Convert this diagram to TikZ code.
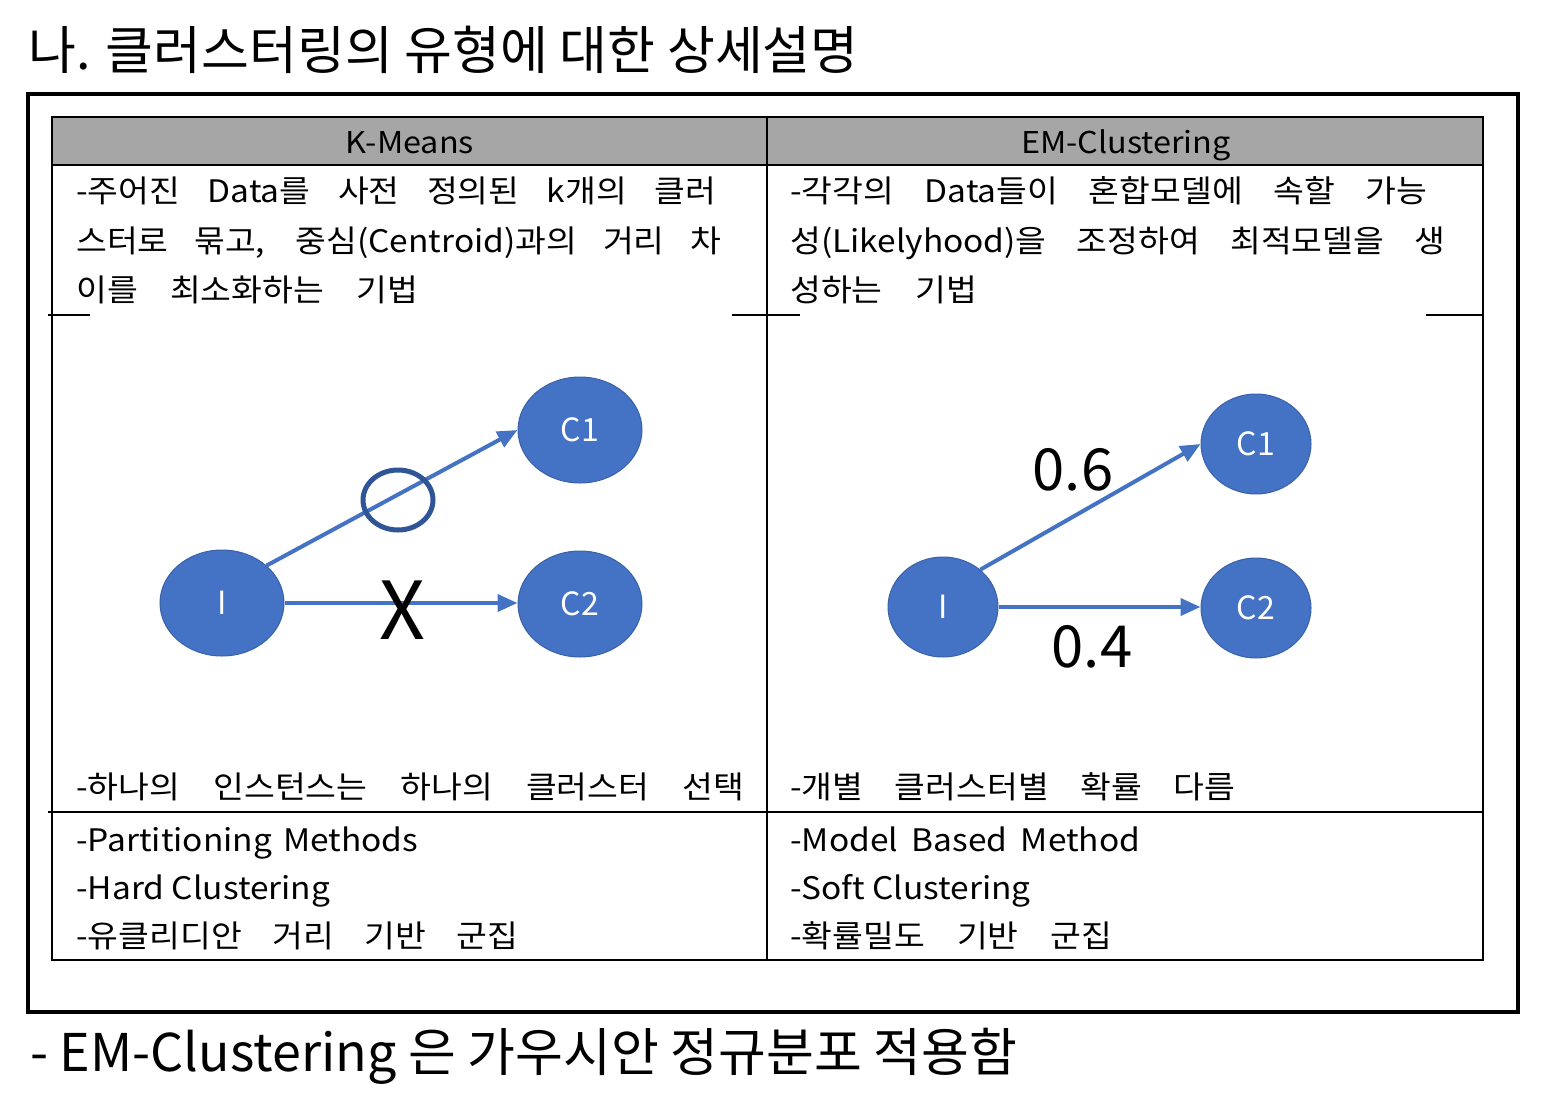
\documentclass[tikz,border=0pt]{standalone}
\usepackage{fontspec}
\setmainfont{Noto Sans CJK KR}
\newfontfamily\tabfont[FakeStretch=1.08]{Noto Sans CJK KR}
\usetikzlibrary{shapes.geometric,arrows.meta,positioning}
\definecolor{clblue}{HTML}{4472C4}
\definecolor{cldark}{HTML}{2F5597}
\definecolor{hdgray}{HTML}{A6A6A6}
\newcommand{\tline}[2]{\makebox[#1pt][s]{#2}}
\tikzset{
  knode/.style ={ellipse, fill=clblue, draw=clblue!85!black, line width=1pt,
                 minimum width=124pt, minimum height=106pt, inner sep=0pt,
                 text=white, font=\fontsize{32}{36}\selectfont},
  enode/.style ={knode, minimum width=110pt, minimum height=100pt},
  txt/.style   ={anchor=base west, inner sep=0pt, font=\tabfont\fontsize{31}{36}\selectfont},
  hdr/.style   ={anchor=base, inner sep=0pt, font=\tabfont\fontsize{30}{36}\selectfont},
  big/.style   ={inner sep=0pt, font=\fontsize{58}{64}\selectfont},
  ar/.style    ={-{Triangle[length=20pt,width=17pt]}, line width=4pt, draw=clblue},
  rule/.style  ={line width=2.5pt}
}
\begin{document}
\begin{tikzpicture}[x=1pt,y=-1pt]
\useasboundingbox (0,0) rectangle (1556,1106);
% title and frame
\node[anchor=base west, inner sep=0pt, font=\fontsize{52}{60}\selectfont] (title) at (28,69)
      {나. 클러스터링의 유형에 대한 상세설명};
\draw[line width=3.5pt] (28,94) rectangle (1518,1012);

% table grid
\fill[hdgray] (52,117) rectangle (1483,165);
\draw[rule] (52,117) rectangle (1483,960);
\draw[rule] (52,165) -- (1483,165);
\draw[rule] (767,117) -- (767,960);
\draw[rule] (48,812) -- (1483,812);
\draw[rule] (48,315) -- (90,315);
\draw[rule] (732,315) -- (800,315);
\draw[rule] (1426,315) -- (1483,315);

% headers
\node[hdr] (hk) at (410,153) {K-Means};
\node[hdr] (he) at (1126,153) {EM-Clustering};

% K-Means column
\node[txt] (k1) at (76,202) {\tline{640}{-주어진 Data를 사전 정의된 k개의 클러}};
\node[txt] (k2) at (76,252) {\tline{645}{스터로 묶고, 중심(Centroid)과의 거리 차}};
\node[txt] (k3) at (76,301) {\tline{342}{이를 최소화하는 기법}};
\node[txt] (k4) at (76,798) {\tline{668}{-하나의 인스턴스는 하나의 클러스터 선택}};
\node[txt] (k5) at (76,851) {\tline{342}{-Partitioning Methods}};
\node[txt] (k6) at (76,899) {-Hard Clustering};
\node[txt] (k7) at (76,947) {\tline{442}{-유클리디안 거리 기반 군집}};

% EM column
\node[txt] (e1) at (790,202) {\tline{637}{-각각의 Data들이 혼합모델에 속할 가능}};
\node[txt] (e2) at (790,252) {\tline{655}{성(Likelyhood)을 조정하여 최적모델을 생}};
\node[txt] (e3) at (790,301) {\tline{187}{성하는 기법}};
\node[txt] (e4) at (790,798) {\tline{445}{-개별 클러스터별 확률 다름}};
\node[txt] (e5) at (790,851) {\tline{350}{-Model Based Method}};
\node[txt] (e6) at (790,899) {-Soft Clustering};
\node[txt] (e7) at (790,947) {\tline{322}{-확률밀도 기반 군집}};

% K-Means diagram
\node[knode] (kI)  at (222,603) {I};
\node[knode] (kC1) at (580,430) {C1};
\node[knode, below=67pt of kC1] (kC2) {C2};
\draw[ar] (kI.40)   -- (kC1.west);
\draw[ar] (kI.east) -- (kI.east -| kC2.west);
\node[ellipse, draw=cldark, line width=5pt, minimum width=70pt, minimum height=60pt] (kOk) at (398,500) {};
\node[inner sep=0pt, font=\fontsize{80}{88}\selectfont] (kNo) at (402,610) {X};

% EM diagram
\node[enode] (eI)  at (943,607) {I};
\node[enode] (eC1) at (1256,444) {C1};
\node[enode, below=63pt of eC1] (eC2) {C2};
\draw[ar] (eI.45)   -- (eC1.west);
\draw[ar] (eI.east) -- (eI.east -| eC2.west);
\node[big] (pC1) at (1073,470) {0.6};
\node[big] (pC2) at (1092,647) {0.4};

% note
\node[anchor=base west, inner sep=0pt, font=\fontsize{52}{60}\selectfont] (note) at (30,1071)
      {- EM-Clustering 은 가우시안 정규분포 적용함};
\end{tikzpicture}
\end{document}
